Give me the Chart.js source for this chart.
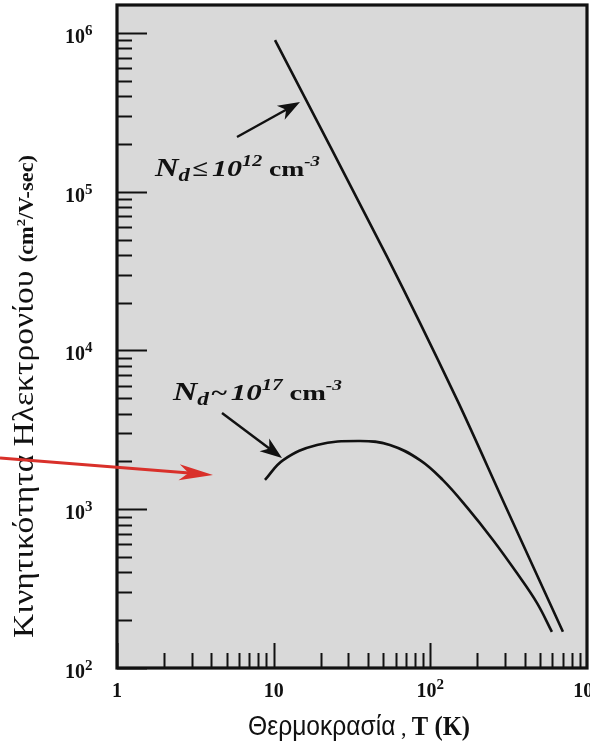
<!DOCTYPE html>
<html><head><meta charset="utf-8">
<script src="https://cdn.jsdelivr.net/npm/chart.js@4/dist/chart.umd.min.js"></script>
<style>html,body{margin:0;padding:0;background:#fff;}canvas{display:block;}</style>
</head><body>
<canvas id="c" width="590" height="748" style="width:590px;height:748px"></canvas>
<script>
// Temperature (K) and electron mobility (cm^2/V-sec)
const lowDopingT  = [10.2, 52.9, 148, 290, 702];
const lowDopingMu = [9.0e5, 3.9e4, 4.9e3, 1.14e3, 169];
const highDopingT  = [8.8, 11.5, 18.9, 35.6, 55.2, 85.9, 120, 171, 251, 357, 479, 597];
const highDopingMu = [1530, 2040, 2540, 2690, 2540, 2040, 1530, 1030, 640, 396, 257, 169];
// axis tick labels: base and exponent
const xTickValues = [1, 10, 100, 1000];
const xTickBase   = ['1', '10', '10', '10'];
const xTickExp    = ['', '', '2', '3'];
const yTickValues = [1e2, 1e3, 1e4, 1e5, 1e6];
const yTickExp    = ['2', '3', '4', '5', '6'];
const xTitleGreek = 'Θερμοκρασία';
const xTitleUnit = 'T (K)';
const yTitleGreek = 'Κινητικότητα Ηλεκτρονίου ';
const lowLabel = {exp: '12', rel: '≤'};
const highLabel = {exp: '17', rel: '~'};

const SERIF = '"Liberation Serif", "DejaVu Serif", serif';
const SANS = '"Liberation Sans", "DejaVu Sans", sans-serif';

function richWidth(ctx, parts){
  let w = 0;
  for (const p of parts){ ctx.font = p.f; w += ctx.measureText(p.t).width + (p.dx||0); }
  return w;
}
function rich(ctx, x, y, parts, sx){
  sx = sx || 1;
  ctx.save(); ctx.translate(x, y); ctx.scale(sx, 1);
  ctx.textAlign = 'left'; ctx.textBaseline = 'alphabetic';
  let cx = 0;
  for (const p of parts){
    ctx.font = p.f;
    cx += (p.dx||0);
    ctx.fillText(p.t, cx, p.dy||0);
    cx += ctx.measureText(p.t).width;
  }
  ctx.restore();
}
function arrow(ctx, x1, y1, x2, y2, L, W, color, lw){
  const ang = Math.atan2(y2-y1, x2-x1);
  ctx.save();
  ctx.strokeStyle = color; ctx.fillStyle = color; ctx.lineWidth = lw;
  ctx.beginPath();
  ctx.moveTo(x1, y1);
  ctx.lineTo(x2 - Math.cos(ang)*L*0.7, y2 - Math.sin(ang)*L*0.7);
  ctx.stroke();
  ctx.translate(x2, y2); ctx.rotate(ang);
  ctx.beginPath();
  ctx.moveTo(0, 0);
  ctx.lineTo(-L, -W);
  ctx.lineTo(-L*0.72, 0);
  ctx.lineTo(-L, W);
  ctx.closePath();
  ctx.fill();
  ctx.restore();
}

const paper = {
  id: 'paper',
  beforeDraw(chart){
    const {ctx, chartArea: a} = chart;
    ctx.save();
    ctx.fillStyle = '#ffffff';
    ctx.fillRect(0, 0, chart.width, chart.height);
    ctx.fillStyle = '#d9d9d9';
    ctx.fillRect(a.left, a.top, a.right - a.left, a.bottom - a.top);
    ctx.restore();
  },
  afterDraw(chart){
    const {ctx, chartArea: a} = chart;
    const xs = chart.scales.x, ys = chart.scales.y;
    ctx.save();
    ctx.strokeStyle = '#111'; ctx.fillStyle = '#111';
    // ticks (inward)
    ctx.lineWidth = 2;
    for (let k = 0; k < 3; k++){
      for (let m = 1; m <= 9; m++){
        const v = m * Math.pow(10, k);
        const px = Math.round(xs.getPixelForValue(v)) + 0.5;
        const len = m === 1 ? 25 : 15;
        ctx.beginPath(); ctx.moveTo(px, a.bottom); ctx.lineTo(px, a.bottom - len); ctx.stroke();
      }
    }
    for (let k = 2; k <= 6; k++){
      for (let m = 1; m <= 9; m++){
        const v = m * Math.pow(10, k);
        if (v > ys.max) break;
        const py = Math.round(ys.getPixelForValue(v)) + 0.5;
        const len = m === 1 ? 30 : 15;
        ctx.beginPath(); ctx.moveTo(a.left, py); ctx.lineTo(a.left + len, py); ctx.stroke();
      }
    }
    // frame
    ctx.lineWidth = 3.2;
    ctx.strokeRect(a.left, a.top, a.right - a.left, a.bottom - a.top);

    // y tick labels
    ctx.fillStyle = '#111';
    yTickValues.forEach((v, i) => {
      const py = ys.getPixelForValue(v);
      ctx.font = 'bold 20px ' + SERIF;
      ctx.textAlign = 'right'; ctx.textBaseline = 'alphabetic';
      ctx.fillText('10', 85, py + 10);
      ctx.font = 'bold 15px ' + SERIF;
      ctx.textAlign = 'left';
      ctx.fillText(yTickExp[i], 85, py + 2);
    });
    // x tick labels
    xTickValues.forEach((v, i) => {
      const px = xs.getPixelForValue(v);
      const parts = [{t: xTickBase[i], f: 'bold 20px ' + SERIF}];
      if (xTickExp[i]) parts.push({t: xTickExp[i], f: 'bold 15px ' + SERIF, dy: -8});
      const w = richWidth(ctx, parts);
      rich(ctx, px - w/2, 697, parts);
    });

    // x title
    const xParts = [
      {t: xTitleGreek, f: '27px ' + SANS},
      {t: ' , ', f: '24px ' + SERIF},
      {t: xTitleUnit, f: 'bold 27px ' + SERIF}
    ];
    const xw = richWidth(ctx, xParts);
    rich(ctx, 248, 735, xParts, (470 - 248) / xw);

    // y title (rotated)
    const yParts = [
      {t: yTitleGreek, f: '30px ' + SERIF},
      {t: '(cm', f: 'bold 20px ' + SERIF},
      {t: '2', f: 'bold 13px ' + SERIF, dy: -8},
      {t: '/V-sec)', f: 'bold 20px ' + SERIF}
    ];
    const yw = richWidth(ctx, yParts);
    ctx.save();
    ctx.translate(33, 638);
    ctx.rotate(-Math.PI / 2);
    rich(ctx, 0, 0, yParts, (638 - 155) / yw);
    ctx.restore();

    // annotations
    const ann = (lab) => [
      {t: 'N', f: 'italic bold 26px ' + SERIF},
      {t: 'd', f: 'italic bold 18px ' + SERIF, dy: 5},
      {t: lab.rel, f: 'bold 23px ' + SERIF, dx: 2},
      {t: '10', f: 'italic bold 24px ' + SERIF, dx: 3},
      {t: lab.exp, f: 'italic bold 16px ' + SERIF, dy: -10},
      {t: ' cm', f: 'bold 22px ' + SERIF},
      {t: '-3', f: 'italic bold 15px ' + SERIF, dy: -10}
    ];
    const a1 = ann(lowLabel);
    rich(ctx, 155, 176, a1, (320 - 155) / richWidth(ctx, a1));
    const a2 = ann(highLabel);
    rich(ctx, 173, 400, a2, (342 - 173) / richWidth(ctx, a2));
    arrow(ctx, 237, 137, 300, 102, 22, 8, '#111', 2.4);
    arrow(ctx, 222, 413, 282, 458, 22, 8, '#111', 2.4);

    // red marker arrow
    arrow(ctx, 0, 458, 213, 475, 34, 8, '#d9302a', 3);
    ctx.restore();
  }
};

new Chart(document.getElementById('c'), {
  type: 'scatter',
  data: {
    datasets: [
      {
        label: 'Nd ≤ 1e12',
        data: lowDopingT.map((t, i) => ({x: t, y: lowDopingMu[i]})),
        showLine: true, borderColor: '#111', borderWidth: 2.6,
        pointRadius: 0, tension: 0.3, fill: false
      },
      {
        label: 'Nd ~ 1e17',
        data: highDopingT.map((t, i) => ({x: t, y: highDopingMu[i]})),
        showLine: true, borderColor: '#111', borderWidth: 2.6,
        pointRadius: 0, tension: 0.4, fill: false
      }
    ]
  },
  options: {
    responsive: false,
    devicePixelRatio: 1,
    animation: false,
    layout: {padding: {left: 117, top: 5, right: 3, bottom: 80}},
    plugins: {legend: {display: false}, tooltip: {enabled: false}},
    scales: {
      x: {type: 'logarithmic', min: 1, max: 1000, display: false},
      y: {type: 'logarithmic', min: 100, max: 1.5e6, display: false}
    }
  },
  plugins: [paper]
});
</script>
</body></html>
